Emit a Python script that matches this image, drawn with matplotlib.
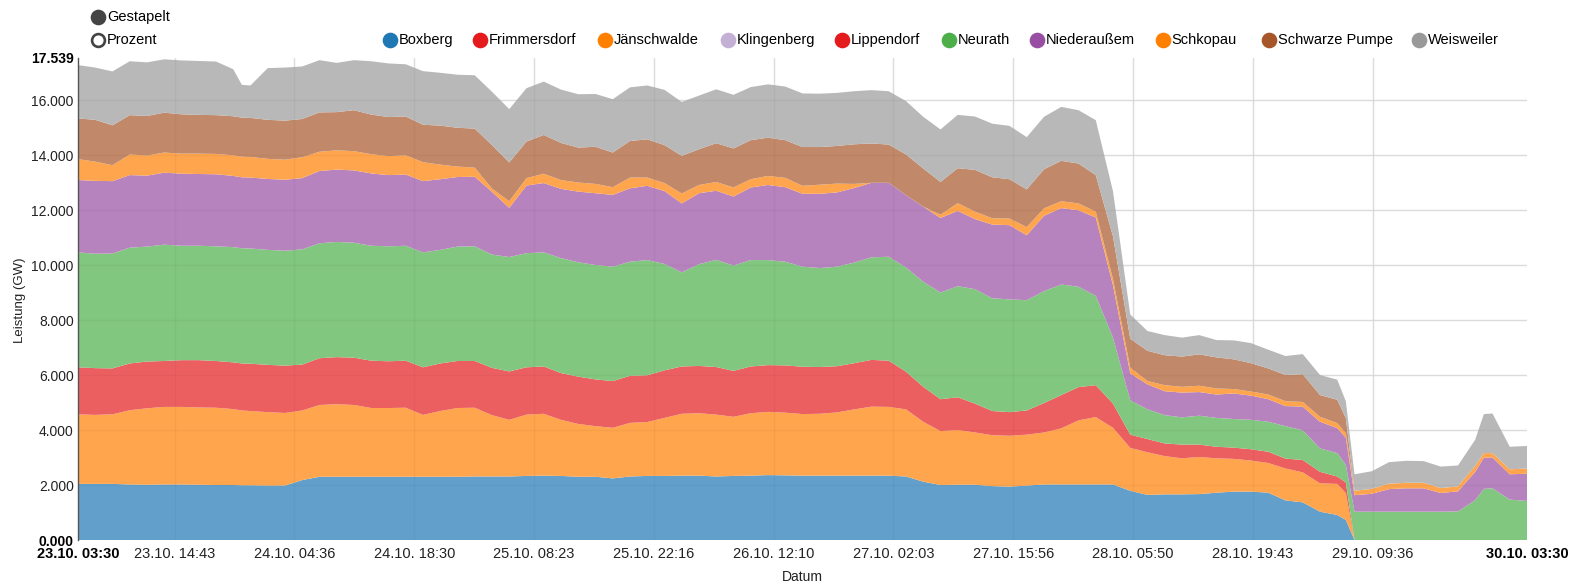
import matplotlib
matplotlib.use("Agg")
import matplotlib.pyplot as plt
from matplotlib.colors import to_rgb
from datetime import datetime

plt.rcParams['font.family'] = ['Liberation Sans', 'DejaVu Sans']

# ---- data (MW), hours since 23.10. 03:30 ----
hours = [0, 2, 4, 6, 8, 10, 12, 14, 16, 18, 19, 20, 22, 24, 26, 28, 30, 32, 34, 36, 38,
         40, 42, 44, 46, 48, 50, 52, 54, 56, 58, 60, 62, 64, 66, 68, 70, 72, 74, 76, 78,
         80, 82, 84, 86, 88, 90, 92, 94, 96, 98, 100, 102, 104, 106, 108, 110, 112, 114, 116, 118,
         120, 122, 124, 126, 128, 130, 132, 134, 136, 138, 140, 142, 144, 146, 147, 148,
         150, 152, 154, 156, 158, 160, 162, 163, 164, 166, 168]

boxberg = [2040, 2040, 2040, 2020, 2010, 2020, 2020, 2010, 2000, 2000, 1990, 1990, 1980, 1980, 2180, 2300, 2300, 2300, 2300, 2300, 2300,
           2300, 2300, 2300, 2310, 2310, 2310, 2330, 2340, 2330, 2300, 2300, 2240, 2310, 2330, 2330, 2340, 2340, 2310, 2330, 2340,
           2360, 2350, 2340, 2340, 2340, 2340, 2340, 2340, 2310, 2120, 2000, 2010, 2010, 1960, 1940, 1980, 2020, 2020, 2020, 2020,
           2020, 1790, 1640, 1660, 1660, 1670, 1720, 1760, 1760, 1720, 1440, 1370, 1030, 910, 730, 0,
           0, 0, 0, 0, 0, 0, 0, 0, 0, 0, 0]
frimmersdorf = [0] * len(hours)
jaenschwalde = [2530, 2510, 2530, 2700, 2780, 2820, 2820, 2810, 2810, 2760, 2720, 2700, 2670, 2640, 2530, 2610, 2640, 2610, 2500, 2500, 2510,
                2250, 2390, 2500, 2500, 2230, 2060, 2230, 2250, 2040, 1920, 1840, 1840, 1950, 1960, 2110, 2250, 2270, 2250, 2150, 2270,
                2300, 2280, 2240, 2250, 2300, 2410, 2510, 2500, 2440, 2180, 1960, 1990, 1900, 1850, 1850, 1850, 1890, 2040, 2330, 2450,
                2060, 1560, 1550, 1390, 1310, 1350, 1250, 1190, 1130, 1080, 1160, 1090, 1030, 1130, 970, 0,
                0, 0, 0, 0, 0, 0, 0, 0, 0, 0, 0]
klingenberg = [0] * len(hours)
lippendorf = [1710, 1700, 1670, 1700, 1700, 1670, 1700, 1720, 1700, 1700, 1710, 1720, 1720, 1720, 1670, 1700, 1710, 1720, 1720, 1700, 1710,
              1730, 1730, 1710, 1700, 1720, 1760, 1720, 1720, 1700, 1720, 1700, 1700, 1710, 1700, 1730, 1720, 1720, 1730, 1670, 1700,
              1700, 1720, 1720, 1700, 1680, 1680, 1700, 1680, 1370, 1270, 1160, 1190, 1050, 880, 860, 880, 1070, 1210, 1210, 1160,
              880, 480, 480, 460, 500, 450, 420, 410, 410, 410, 360, 450, 420, 270, 390, 0,
              0, 0, 0, 0, 0, 0, 0, 0, 0, 0, 0]
neurath = [4180, 4160, 4180, 4210, 4180, 4230, 4160, 4160, 4170, 4190, 4190, 4190, 4180, 4180, 4190, 4180, 4190, 4180, 4180, 4180, 4180,
           4180, 4130, 4160, 4170, 4120, 4160, 4150, 4150, 4180, 4160, 4160, 4160, 4150, 4190, 3870, 3420, 3700, 3900, 3830, 3870,
           3820, 3770, 3640, 3600, 3620, 3660, 3730, 3780, 3790, 3820, 3880, 4040, 4160, 4100, 4100, 4010, 4070, 4020, 3650, 3250,
           2400, 1250, 1080, 1030, 990, 1050, 1050, 1040, 1070, 1090, 1180, 1080, 850, 850, 640, 1030,
           1030, 1030, 1030, 1030, 1030, 1040, 1450, 1860, 1880, 1470, 1420]
niederaussem = [2630, 2650, 2630, 2640, 2580, 2620, 2620, 2610, 2620, 2590, 2580, 2580, 2580, 2580, 2590, 2630, 2630, 2630, 2630, 2590, 2590,
                2590, 2570, 2530, 2530, 2280, 1790, 2460, 2520, 2520, 2570, 2610, 2610, 2670, 2700, 2650, 2510, 2580, 2510, 2510, 2640,
                2730, 2710, 2650, 2700, 2700, 2710, 2710, 2690, 2630, 2730, 2710, 2740, 2550, 2680, 2700, 2360, 2740, 2780, 2780, 2850,
                1900, 980, 910, 870, 900, 860, 850, 930, 880, 820, 730, 860, 970, 910, 990, 600,
                650, 820, 850, 850, 680, 730, 1030, 1130, 1120, 920, 990]
schkopau = [760, 700, 580, 750, 730, 730, 730, 740, 740, 750, 750, 750, 730, 730, 760, 700, 700, 700, 700, 690, 700,
            690, 530, 380, 330, 120, 240, 270, 340, 320, 330, 340, 280, 390, 300, 290, 360, 300, 320, 330, 300,
            330, 340, 290, 330, 320, 150, 0, 0, 0, 0, 120, 280, 270, 230, 240, 300, 270, 250, 250, 210,
            230, 210, 120, 220, 210, 230, 220, 160, 150, 170, 180, 170, 180, 180, 160, 160,
            180, 200, 200, 200, 180, 180, 220, 170, 160, 180, 190]
schwarze_pumpe = [1480, 1520, 1450, 1430, 1440, 1450, 1430, 1410, 1410, 1420, 1420, 1420, 1420, 1420, 1390, 1430, 1390, 1490, 1440, 1420, 1410,
                  1360, 1420, 1410, 1420, 1580, 1410, 1330, 1410, 1350, 1270, 1350, 1260, 1330, 1390, 1380, 1370, 1300, 1410, 1420, 1420,
                  1390, 1370, 1410, 1370, 1370, 1440, 1430, 1390, 1480, 1390, 1190, 1270, 1520, 1490, 1430, 1370, 1420, 1470, 1450, 1330,
                  1550, 1050, 1100, 1090, 1100, 1140, 1130, 1080, 1030, 950, 950, 1010, 790, 850, 550, 0,
                  0, 0, 0, 0, 0, 0, 0, 0, 0, 0, 0]
weisweiler = [1940, 1900, 1960, 1960, 1950, 1940, 1960, 1960, 1950, 1710, 1190, 1180, 1880, 1930, 1910, 1900, 1790, 1820, 1940, 1950, 1900,
              1950, 1920, 1930, 1940, 1940, 1940, 1940, 1940, 1940, 1940, 1920, 1940, 1950, 1960, 2010, 1960, 1950, 1960, 1950, 1930,
              1940, 1950, 1950, 1940, 1930, 1930, 1940, 1940, 1940, 1880, 1910, 1940, 1940, 1950, 1940, 1900, 1910, 1960, 1940, 2000,
              1640, 880, 720, 730, 690, 700, 630, 690, 730, 680, 690, 730, 730, 730, 610, 600,
              640, 780, 800, 790, 780, 760, 950, 1420, 1440, 820, 820]

names = ["Boxberg", "Frimmersdorf", "Jänschwalde", "Klingenberg", "Lippendorf",
         "Neurath", "Niederaußem", "Schkopau", "Schwarze Pumpe", "Weisweiler"]
values = [boxberg, frimmersdorf, jaenschwalde, klingenberg, lippendorf,
          neurath, niederaussem, schkopau, schwarze_pumpe, weisweiler]
colors = ["#1f77b4", "#e41a1c", "#ff7f00", "#c5b0d5", "#e41a1c",
          "#4daf4a", "#984ea3", "#ff7f00", "#a65628", "#999999"]

x_tick_labels = ["23.10. 14:43", "24.10. 04:36", "24.10. 18:30", "25.10. 08:23", "25.10. 22:16",
                 "26.10. 12:10", "27.10. 02:03", "27.10. 15:56", "28.10. 05:50", "28.10. 19:43",
                 "29.10. 09:36"]
start_label = "23.10. 03:30"
end_label = "30.10. 03:30"
y_ticks = [0, 2000, 4000, 6000, 8000, 10000, 12000, 14000, 16000]
y_max = 17539


def to_hours(lbl):
    t0 = datetime.strptime("2017 " + start_label, "%Y %d.%m. %H:%M")
    t = datetime.strptime("2017 " + lbl, "%Y %d.%m. %H:%M")
    return (t - t0).total_seconds() / 3600.0


def blend(c, a=0.7):
    r, g, b = to_rgb(c)
    return (a * r + (1 - a), a * g + (1 - a), a * b + (1 - a))


W, H = 1572, 587
fig = plt.figure(figsize=(W / 100, H / 100), dpi=100)
ax = fig.add_axes([78 / W, 47 / H, 1449 / W, 482.3 / H])

xt = [to_hours(l) for l in x_tick_labels]
x_end = to_hours(end_label)

# grid behind
for v in y_ticks[1:]:
    ax.axhline(v, color="#e5e5e5", lw=1, zorder=1)
for v in xt:
    ax.axvline(v, color="#e5e5e5", lw=1, zorder=1)

ax.stackplot(hours, *values, colors=[blend(c) for c in colors], linewidth=0, zorder=2,
             antialiased=True)

# faint grid visible through areas
for v in y_ticks[1:]:
    ax.axhline(v, color="black", alpha=0.035, lw=1, zorder=3)
for v in xt:
    ax.axvline(v, color="black", alpha=0.035, lw=1, zorder=3)

ax.set_xlim(0, x_end)
ax.set_ylim(0, y_max)

ax.set_yticks(y_ticks + [y_max])
ylabels = [f"{v / 1000:.3f}" for v in y_ticks + [y_max]]
ax.set_yticklabels(ylabels, fontsize=10, color="#222")
for i, t in enumerate(ax.get_yticklabels()):
    if i == 0 or i == len(ylabels) - 1:
        t.set_fontweight("bold")
        t.set_color("#000")

ax.set_xticks([0] + xt + [x_end])
ax.set_xticklabels([start_label] + x_tick_labels + [end_label], fontsize=10.5, color="#222")
xl = ax.get_xticklabels()
xl[0].set_fontweight("bold")
xl[-1].set_fontweight("bold")
xl[0].set_color("#000")
xl[-1].set_color("#000")

ax.tick_params(axis="both", length=0)
ax.tick_params(axis="y", pad=3)
ax.tick_params(axis="x", pad=5)

for s in ["top", "right", "bottom"]:
    ax.spines[s].set_visible(False)
ax.spines["left"].set_color("#555")
ax.spines["left"].set_linewidth(1)
ax.spines["left"].set_zorder(4)

# ---- axis titles and legend overlay (pixel coordinates) ----
lg = fig.add_axes([0, 0, 1, 1], zorder=5)
lg.set_xlim(0, W)
lg.set_ylim(H, 0)
lg.axis("off")

lg.text(20, 300, "Leistung (GW)", fontsize=9.5, rotation=90, va="center", ha="center", color="#222")
lg.text(802.5, 577, "Datum", fontsize=10, va="center", ha="center", color="#222")

lg.scatter([98], [17], s=105, color="#444", zorder=6)
lg.text(107, 17, "Gestapelt", fontsize=10.5, va="center", ha="left", color="#000")
lg.scatter([98], [40], s=85, facecolor="white", edgecolor="#444", linewidth=1.9, zorder=6)
lg.text(107, 40, "Prozent", fontsize=10.5, va="center", ha="left", color="#000")

leg_x = [390, 480, 605, 728, 842, 949, 1037, 1163, 1269, 1419]
for xx, name, c in zip(leg_x, names, colors):
    lg.scatter([xx], [40], s=105, color=c, zorder=6)
    lg.text(xx + 8.5, 40, name, fontsize=10.5, va="center", ha="left", color="#000")

fig.savefig("out.png", dpi=100)
